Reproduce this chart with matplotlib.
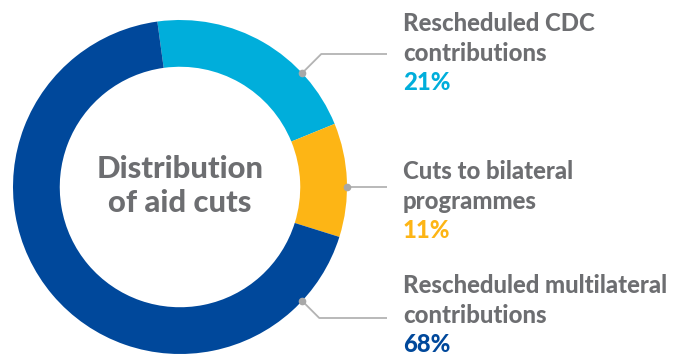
import matplotlib.pyplot as plt
import numpy as np

labels = ["Rescheduled CDC\ncontributions", "Cuts to bilateral\nprogrammes", "Rescheduled multilateral\ncontributions"]
shares = [21, 11, 68]
colors = ["#00AEDB", "#FDB515", "#00489B"]
pct_labels = ["21%", "11%", "68%"]

W, H = 683, 356
fig = plt.figure(figsize=(W / 100, H / 100), dpi=100)
ax = fig.add_axes([0, 0, 1, 1])

cx, cy, r = 180, H - 187, 167
ax.pie(shares, colors=colors, startangle=97.8, counterclock=False,
       center=(cx, cy), radius=r, wedgeprops=dict(width=r * 0.28, linewidth=0))

ax.set_xlim(0, W)
ax.set_ylim(0, H)
ax.set_aspect("equal")
ax.axis("off")

grey = "#6D6E71"
font = "Lato"

ax.text(cx, cy + 1, "Distribution\nof aid cuts", ha="center", va="center",
        fontsize=22.3, fontweight="black", color=grey, family=font, linespacing=1.3)

# leader lines: anchor angle on ring -> elbow -> label
anchor_angles = [43, 0, -43]
label_y = [H - 54, H - 187, H - 318]
text_top = [H - 12, H - 160, H - 274]
for ang, ly, ty, lab, pct, col in zip(anchor_angles, label_y, text_top, labels, pct_labels, colors):
    a = np.radians(ang)
    px, py = cx + r * np.cos(a), cy + r * np.sin(a)
    ex = px + abs(ly - py) if ly != py else px
    ax.plot([px, ex, 387], [py, ly, ly], color="#B3B3B3", lw=1.3, solid_capstyle="butt")
    ax.plot(px, py, "o", color="#A8A8A8", ms=4.5)
    ax.text(403, ty, lab, ha="left", va="top", fontsize=17.2, fontweight="black",
            color=grey, family=font, linespacing=1.37)
    ax.text(403, ty - 59, pct, ha="left", va="top", fontsize=17.2, fontweight="black",
            color=col, family=font)

fig.savefig("out.png", dpi=100)
